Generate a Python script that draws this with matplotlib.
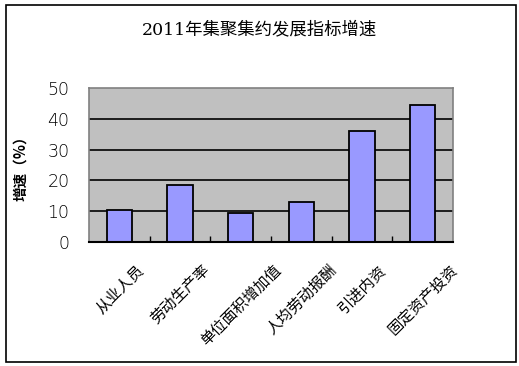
import matplotlib
matplotlib.use("Agg")
import matplotlib.pyplot as plt
from matplotlib.patches import Rectangle

plt.rcParams['font.family'] = ['Noto Sans CJK SC', 'DejaVu Sans']

categories = ["从业人员", "劳动生产率", "单位面积增加值", "人均劳动报酬", "引进内资", "固定资产投资"]
values = [10.3, 18.4, 9.3, 12.9, 35.9, 44.5]
yticks = [0, 10, 20, 30, 40, 50]
title = "2011年集聚集约发展指标增速"
ylabel = "增速（%）"

fig = plt.figure(figsize=(5.19, 3.66), dpi=100)
fig.patch.set_facecolor("white")
ax = fig.add_axes([89/519, 1-242/366, (453-89)/519, (242-88)/366])
ax.set_facecolor("#C0C0C0")

x = list(range(len(categories)))
ax.bar(x, values, width=0.42, color="#9999FF", edgecolor="black", linewidth=1.3, zorder=3)
ax.set_xlim(-0.5, len(categories)-0.5)
ax.set_ylim(0, 50)
ax.set_yticks(yticks)
ax.set_yticklabels([str(v) for v in yticks], fontsize=12.5, family=['DejaVu Sans'], fontweight='light', color='black')
ax.tick_params(axis='y', length=0, pad=14)
for v in yticks[1:-1]:
    ax.axhline(v, color="black", linewidth=1.2, zorder=2)

ax.set_xticks([i + 0.5 for i in x[:-1]], minor=True)
ax.set_xticks(x)
ax.set_xticklabels(categories, rotation=45, ha='center', va='top', fontsize=11)
ax.tick_params(axis='x', which='major', length=0, pad=14)
ax.tick_params(axis='x', which='minor', direction='in', length=4, width=1, color='black')

for s in ['top', 'left', 'right']:
    ax.spines[s].set_color("#808080")
    ax.spines[s].set_linewidth(1.2)
ax.spines['bottom'].set_color("black")
ax.spines['bottom'].set_linewidth(1.5)
ax.spines['bottom'].set_zorder(4)

fig.text(259/519, 1-30/366, title, ha='center', va='center', fontsize=12.5,
         family=['DejaVu Serif', 'Noto Sans CJK SC'])
fig.text(20/519, 1-165/366, ylabel, ha='center', va='center', rotation=90,
         fontsize=10.5, fontweight='bold')

fig.patches.append(Rectangle((6/519, 1-362/366), (516-6)/519, (362-5)/366,
                             transform=fig.transFigure, fill=False,
                             edgecolor='black', linewidth=1.2))

fig.savefig("out.png", dpi=100)
